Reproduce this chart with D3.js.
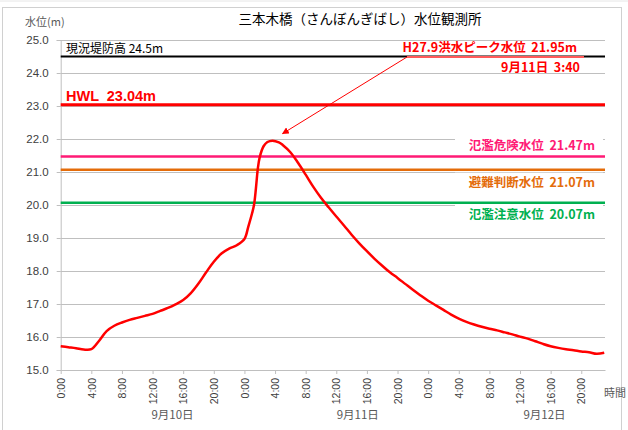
<!DOCTYPE html>
<html lang="ja">
<head>
<meta charset="UTF-8">
<title>三本木橋 水位観測所</title>
<script src="https://cdn.jsdelivr.net/npm/d3@7"></script>
<style>
  body { margin: 0; background: #fff; }
  text { font-family: "Liberation Sans", "Noto Sans CJK JP", sans-serif; }
  .jp { font-family: "Noto Sans CJK JP", sans-serif; }
</style>
</head>
<body>
<script>
// hours from 9/10 0:00
const hours = [0,1,2,3,4,5,6,7,8,9,10,11,12,13,14,15,16,17,18,19,20,21,22,23,24,24.5,25,25.25,25.5,25.75,26,26.5,27,27.67,28.5,29,30,31,32,33,34,35,36,37,38,39,40,41,42,43,44,45,46,47,48,49,50,51,52,53,54,55,56,57,58,59,60,61,62,63,64,65,66,67,68,69,70,71];
const levels = [15.72,15.69,15.66,15.62,15.63,15.88,16.18,16.34,16.44,16.52,16.58,16.64,16.70,16.79,16.88,16.99,17.12,17.33,17.62,17.96,18.28,18.53,18.68,18.78,18.97,19.34,19.75,20.0,20.5,21.1,21.45,21.78,21.91,21.95,21.90,21.82,21.60,21.28,20.92,20.55,20.22,19.93,19.65,19.38,19.10,18.84,18.60,18.37,18.16,17.96,17.79,17.61,17.43,17.26,17.10,16.96,16.82,16.68,16.56,16.46,16.38,16.31,16.25,16.20,16.14,16.08,16.01,15.95,15.87,15.79,15.72,15.67,15.63,15.60,15.56,15.54,15.49,15.52];

const tickHours = [0,4,8,12,16,20,24,28,32,36,40,44,48,52,56,60,64,68];
const dayLabels = ["9月10日", "9月11日", "9月12日"];
const dayLabelHours = [14.6, 38.8, 63.2];

const refNames  = ["現況堤防高", "HWL", "氾濫危険水位", "避難判断水位", "氾濫注意水位"];
const refLevels = [24.5, 23.04, 21.47, 21.07, 20.07];
const refColors = ["#000000", "#ff0000", "#ff1a75", "#e46c0a", "#00b050"];

const peakTime = 27.67, peakLevel = 21.95;

const W = 628, H = 430;
const svg = d3.select("body").append("svg").attr("width", W).attr("height", H);

// outer frame
svg.append("line").attr("x1", 0).attr("x2", W).attr("y1", 1).attr("y2", 1).attr("stroke", "#e6e6e6");
svg.append("rect").attr("x", 2.5).attr("y", 7.5).attr("width", 619).attr("height", 430)
  .attr("fill", "none").attr("stroke", "#d0d0d0");

const x = d3.scaleLinear().domain([0, 71.1]).range([60.7, 605]);
const y = d3.scaleLinear().domain([15, 25]).range([370, 40]);

// gridlines
svg.append("g").selectAll("line").data(d3.range(16, 26)).join("line")
  .attr("x1", x(0)).attr("x2", x(71.1))
  .attr("y1", d => y(d) + 0.5).attr("y2", d => y(d) + 0.5)
  .attr("stroke", "#bfbfbf").attr("stroke-width", 1);

// y axis
const yAxis = svg.append("g").attr("transform", `translate(${x(0)},0)`)
  .call(d3.axisLeft(y).tickValues(d3.range(15, 26)).tickFormat(d3.format(".1f")).tickSize(4).tickPadding(8));
yAxis.selectAll("path, line").attr("stroke", "#bfbfbf");
yAxis.selectAll("text").attr("fill", "#404040").attr("font-size", 11.5);

// x axis
const xAxis = svg.append("g").attr("transform", `translate(0,${y(15)})`)
  .call(d3.axisBottom(x).tickValues(tickHours).tickFormat(d => (d % 24) + ":00").tickSize(4).tickSizeOuter(0));
xAxis.selectAll("path, line").attr("stroke", "#bfbfbf");
xAxis.selectAll("text")
  .attr("fill", "#404040").attr("font-size", 10.5)
  .attr("transform", "rotate(-90)")
  .attr("text-anchor", "end")
  .attr("x", -8).attr("y", 0).attr("dy", "0.35em");

// day labels
svg.append("g").selectAll("text").data(dayLabels).join("text")
  .attr("class", "jp")
  .attr("x", (d, i) => x(dayLabelHours[i])).attr("y", 419)
  .attr("text-anchor", "middle").attr("font-size", 11.5).attr("fill", "#595959")
  .text(d => d);

svg.append("text").attr("class", "jp").attr("x", 604).attr("y", 397)
  .attr("font-size", 11).attr("fill", "#595959").text("時間");

// titles
svg.append("text").attr("class", "jp").attr("x", 360).attr("y", 24)
  .attr("text-anchor", "middle").attr("font-size", 13.5).attr("fill", "#000")
  .text("三本木橋（さんぼんぎばし）水位観測所");
svg.append("text").attr("class", "jp").attr("x", 25).attr("y", 26)
  .attr("font-size", 11).attr("fill", "#595959").text("水位(m)");

// reference lines
svg.append("g").selectAll("line").data(refLevels).join("line")
  .attr("x1", x(0)).attr("x2", x(71.1))
  .attr("y1", d => y(d)).attr("y2", d => y(d))
  .attr("stroke", (d, i) => refColors[i])
  .attr("stroke-width", (d, i) => i === 0 ? 2 : i === 1 ? 3 : 2.5);

// left labels
svg.append("text").attr("class", "jp").attr("x", 66).attr("y", y(refLevels[0]) - 4)
  .attr("font-size", 12).attr("fill", "#000")
  .text(`${refNames[0]} ${refLevels[0]}m`);
svg.append("text").attr("x", 66).attr("y", y(refLevels[1]) - 4)
  .attr("font-size", 14.5).attr("font-weight", "bold").attr("fill", refColors[1])
  .attr("xml:space", "preserve")
  .text(`${refNames[1]}  ${refLevels[1].toFixed(2)}m`);

// right labels (with white background)
const rightY = [null, null, y(refLevels[2]) - 6, y(refLevels[3]) + 17, y(refLevels[4]) + 16];
[2, 3, 4].forEach(i => {
  svg.append("rect").attr("x", 455).attr("y", rightY[i] - 14).attr("width", 148).attr("height", 18)
    .attr("fill", "#fff");
  svg.append("text").attr("class", "jp").attr("x", 595).attr("y", rightY[i])
    .attr("text-anchor", "end").attr("font-size", 12.5).attr("font-weight", "bold")
    .attr("fill", refColors[i]).attr("xml:space", "preserve")
    .text(`${refNames[i]}  ${refLevels[i].toFixed(2)}m`);
});

// water level curve
const line = d3.line().x((d, i) => x(hours[i])).y(d => y(d)).curve(d3.curveCatmullRom.alpha(0.5));
svg.append("path").datum(levels).attr("d", line)
  .attr("fill", "none").attr("stroke", "#ff0000").attr("stroke-width", 2.5)
  .attr("stroke-linejoin", "round");

// peak annotation
svg.append("defs").append("marker").attr("id", "arr")
  .attr("viewBox", "0 0 10 10").attr("refX", 9).attr("refY", 5)
  .attr("markerWidth", 7).attr("markerHeight", 7).attr("orient", "auto-start-reverse")
  .append("path").attr("d", "M0,0 L10,5 L0,10 z").attr("fill", "#ff0000");

const ax0 = 407, ay0 = 57;
svg.append("line").attr("x1", ax0).attr("y1", ay0).attr("x2", 584).attr("y2", ay0)
  .attr("stroke", "#ff5a5a").attr("stroke-width", 2);
svg.append("line").attr("x1", ax0).attr("y1", ay0)
  .attr("x2", x(peakTime) + 10).attr("y2", y(peakLevel) - 7)
  .attr("stroke", "#ff0000").attr("stroke-width", 1).attr("marker-end", "url(#arr)");

svg.append("text").attr("class", "jp").attr("x", 577).attr("y", 52)
  .attr("text-anchor", "end").attr("font-size", 12.5).attr("font-weight", "bold")
  .attr("fill", "#ff0000").attr("xml:space", "preserve")
  .text(`H27.9洪水ピーク水位  ${peakLevel}m`);
svg.append("text").attr("class", "jp").attr("x", 580).attr("y", 72)
  .attr("text-anchor", "end").attr("font-size", 12.5).attr("font-weight", "bold")
  .attr("fill", "#ff0000").attr("xml:space", "preserve")
  .text("9月11日  3:40");
</script>
</body>
</html>
